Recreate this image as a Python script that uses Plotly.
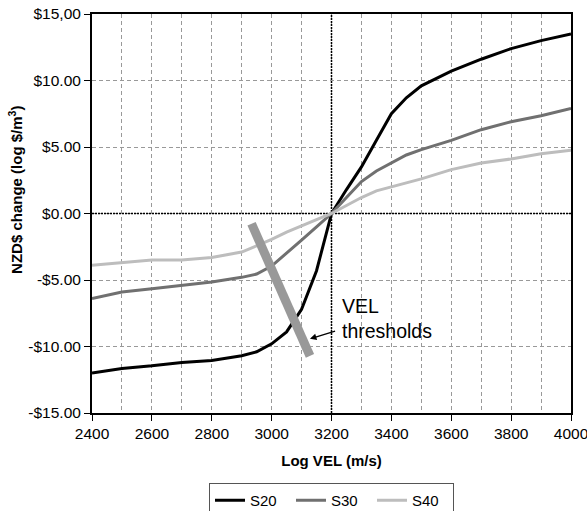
import plotly.graph_objects as go

vel = [2400, 2500, 2600, 2700, 2800, 2900, 2950, 3000, 3050, 3100, 3150, 3200,
       3250, 3300, 3350, 3400, 3450, 3500, 3600, 3700, 3800, 3900, 4000]
s20 = [-12.0, -11.65, -11.45, -11.2, -11.05, -10.7, -10.4, -9.8, -8.9, -7.2, -4.3, 0.0,
       1.8, 3.5, 5.5, 7.5, 8.7, 9.6, 10.7, 11.6, 12.4, 13.0, 13.5]
s30 = [-6.4, -5.9, -5.65, -5.4, -5.15, -4.8, -4.55, -3.95, -3.0, -2.0, -1.0, 0.0,
       1.2, 2.4, 3.2, 3.8, 4.4, 4.8, 5.5, 6.3, 6.9, 7.35, 7.9]
s40 = [-3.9, -3.7, -3.5, -3.5, -3.3, -2.9, -2.45, -1.95, -1.4, -0.95, -0.5, 0.0,
       0.6, 1.2, 1.7, 2.0, 2.3, 2.6, 3.3, 3.8, 4.1, 4.5, 4.75]

series_names = ["S20", "S30", "S40"]
series_colors = ["#000000", "#707070", "#bdbdbd"]

y_tickvals = [15, 10, 5, 0, -5, -10, -15]
y_ticktext = ["$15,00", "$10.00", "$5.00", "$0.00", "-$5.00", "-$10.00", "-$15.00"]
x_tickvals = list(range(2400, 4001, 200))

# threshold bar and annotation (data coords)
bar_x = [2933, 3128]
bar_y = [-0.77, -10.7]
arrow_head = (3128, -9.42)
arrow_tail = (3217, -8.8)

FONT = "Liberation Sans, Arial, sans-serif"

fig = go.Figure()
for name, ys, col in zip(series_names, [s20, s30, s40], series_colors):
    fig.add_trace(go.Scatter(x=vel, y=ys, mode="lines", name=name,
                             line=dict(color=col, width=3)))

# dotted reference lines
fig.add_shape(type="line", x0=3200, x1=3200, y0=-15, y1=15, xref="x", yref="y",
              line=dict(color="black", width=1.5, dash="2px,1px"), layer="between")
fig.add_shape(type="line", x0=2400, x1=4000, y0=0, y1=0, xref="x", yref="y",
              line=dict(color="black", width=1.5, dash="2px,1px"), layer="between")

# threshold bar
fig.add_shape(type="line", x0=bar_x[0], x1=bar_x[1], y0=bar_y[0], y1=bar_y[1],
              xref="x", yref="y", line=dict(color="#999999", width=9), layer="above")

fig.add_annotation(x=arrow_head[0], y=arrow_head[1], ax=arrow_tail[0], ay=arrow_tail[1],
                   xref="x", yref="y", axref="x", ayref="y", text="", showarrow=True,
                   arrowhead=2, arrowsize=1, arrowwidth=1.3, arrowcolor="black")
fig.add_annotation(x=3230, y=-7.9, xref="x", yref="y", text="VEL<br>thresholds",
                   showarrow=False, xanchor="left", yanchor="middle", align="left",
                   font=dict(family=FONT, size=19.5, color="black"))

# y title
fig.add_annotation(x=-0.16, y=0.56, xref="paper", yref="paper",
                   text="<b>NZD$ change (log $/m<sup>3</sup>)</b>", textangle=-90,
                   showarrow=False, xanchor="center", yanchor="middle",
                   font=dict(family=FONT, size=15, color="black"))

fig.update_layout(
    width=587, height=511,
    margin=dict(l=92, r=16, t=14, b=98),
    paper_bgcolor="white", plot_bgcolor="white",
    font=dict(family=FONT, size=15.5, color="black"),
    showlegend=True,
    legend=dict(orientation="h", x=0.5, xanchor="center", xref="paper",
                y=28 / 511, yanchor="top", yref="container",
                bordercolor="#555555", borderwidth=1, font=dict(size=15),
                entrywidth=36, entrywidthmode="pixels", tracegroupgap=0),
    xaxis=dict(range=[2400, 4000], tickvals=x_tickvals, showline=True, linecolor="black",
               linewidth=1.5, mirror=True, ticks="outside", ticklen=6, tickcolor="black",
               showgrid=True, gridcolor="#999999", griddash="4px,3px", gridwidth=1,
               minor=dict(dtick=100, showgrid=True, gridcolor="#999999", griddash="4px,3px",
                          gridwidth=1, ticks=""),
               zeroline=False, automargin=False, ticklabeloverflow="allow",
               title=dict(text="<b>Log VEL (m/s)</b>", font=dict(size=15), standoff=14)),
    yaxis=dict(range=[-15, 15], tickvals=y_tickvals, ticktext=y_ticktext, showline=True,
               linecolor="black", linewidth=2, mirror=True, ticks="outside", ticklen=6,
               tickcolor="black", showgrid=True, gridcolor="#999999", griddash="4px,3px",
               gridwidth=1, zeroline=False, automargin=False, ticklabeloverflow="allow"),
)

fig.write_html("out.html", config={"displayModeBar": False},
               post_script="document.body.style.margin='0';document.body.style.overflow='hidden';")
